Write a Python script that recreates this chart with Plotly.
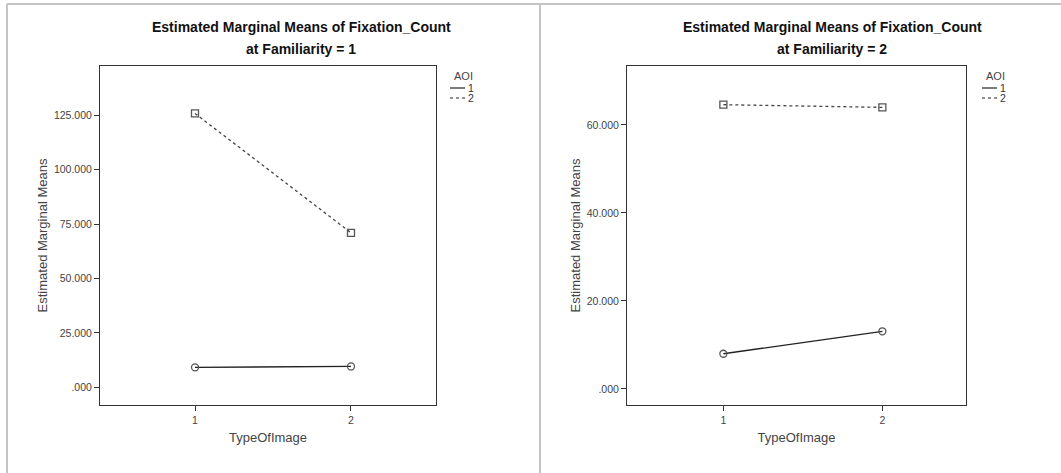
import plotly.graph_objects as go

# Estimated marginal means of Fixation_Count, split by Familiarity
type_of_image = [1, 2]
fam1_aoi1 = [9.2, 9.6]
fam1_aoi2 = [125.8, 71.0]
fam2_aoi1 = [8.0, 13.1]
fam2_aoi2 = [64.6, 64.0]

fam1_ticks = [0, 25, 50, 75, 100, 125]
fam1_ticktext = [".000", "25.000", "50.000", "75.000", "100.000", "125.000"]
fam2_ticks = [0, 20, 40, 60]
fam2_ticktext = [".000", "20.000", "40.000", "60.000"]

W, H = 1061, 473
FONT = "Liberation Sans, Arial, sans-serif"


def px(x):
    return x / W


def py(y):
    return 1 - y / H


fig = go.Figure()

panels = [
    dict(xa="x", ya="y", a1=fam1_aoi1, a2=fam1_aoi2),
    dict(xa="x2", ya="y2", a1=fam2_aoi1, a2=fam2_aoi2),
]

for p in panels:
    fig.add_trace(go.Scatter(
        x=type_of_image, y=p["a1"], xaxis=p["xa"], yaxis=p["ya"],
        mode="lines+markers", showlegend=False,
        line=dict(color="#222222", width=1.3, dash="solid"),
        marker=dict(symbol="circle-open", size=7, color="#555555",
                    line=dict(width=1.3, color="#555555")),
    ))
    fig.add_trace(go.Scatter(
        x=type_of_image, y=p["a2"], xaxis=p["xa"], yaxis=p["ya"],
        mode="lines+markers", showlegend=False,
        line=dict(color="#444444", width=1.3, dash="dot"),
        marker=dict(symbol="square-open", size=7, color="#555555",
                    line=dict(width=1.3, color="#555555")),
    ))

top, bottom = 66, 405
axis_common = dict(
    showline=True, mirror=True, linecolor="#333333", linewidth=1,
    ticks="outside", ticklen=5, tickwidth=1, tickcolor="#333333",
    showgrid=False, zeroline=False,
    tickfont=dict(family=FONT, size=10.5, color="#444444"),
    title_font=dict(family=FONT, size=13, color="#444444"),
)

fig.update_layout(
    width=W, height=H,
    margin=dict(l=0, r=0, t=0, b=0),
    paper_bgcolor="white", plot_bgcolor="white",
    xaxis=dict(domain=[px(100), px(436)], range=[0.391, 2.545],
               tickvals=type_of_image, ticktext=["1", "2"],
               title=dict(text="TypeOfImage", standoff=8), anchor="y", **axis_common),
    yaxis=dict(domain=[py(bottom), py(top)], range=[-8.1, 147.6],
               tickvals=fam1_ticks, ticktext=fam1_ticktext,
               title=dict(text="Estimated Marginal Means", standoff=3), anchor="x", **axis_common),
    xaxis2=dict(domain=[px(627), px(966)], range=[0.394, 2.526],
                tickvals=type_of_image, ticktext=["1", "2"],
                title=dict(text="TypeOfImage", standoff=8), anchor="y2", **axis_common),
    yaxis2=dict(domain=[py(bottom), py(top)], range=[-3.65, 73.4],
                tickvals=fam2_ticks, ticktext=fam2_ticktext,
                title=dict(text="Estimated Marginal Means", standoff=3), anchor="x2", **axis_common),
)

shapes = []
annotations = []

# outer panel frames
shapes.append(dict(type="line", xref="paper", yref="paper", x0=px(7), x1=px(7),
                   y0=0, y1=py(4), line=dict(color="#c4c4c4", width=2)))
shapes.append(dict(type="line", xref="paper", yref="paper", x0=px(7), x1=1,
                   y0=py(4), y1=py(4), line=dict(color="#c4c4c4", width=2)))
shapes.append(dict(type="line", xref="paper", yref="paper", x0=px(540), x1=px(540),
                   y0=0, y1=py(4), line=dict(color="#c4c4c4", width=2)))

for i, (cx, lx) in enumerate([(301, 450), (832, 982)]):
    annotations.append(dict(
        text="<b>Estimated Marginal Means of Fixation_Count</b>",
        xref="paper", yref="paper", x=px(cx), y=py(27), xanchor="center", yanchor="middle",
        showarrow=False, font=dict(family=FONT, size=14, color="#111111")))
    annotations.append(dict(
        text=f"<b>at Familiarity = {i + 1}</b>",
        xref="paper", yref="paper", x=px(cx), y=py(49), xanchor="center", yanchor="middle",
        showarrow=False, font=dict(family=FONT, size=14, color="#111111")))
    # legend
    annotations.append(dict(
        text="AOI", xref="paper", yref="paper", x=px(lx + 2), y=py(76),
        xanchor="left", yanchor="middle", showarrow=False,
        font=dict(family=FONT, size=11, color="#444444")))
    for lbl, dash, ly in [("1", "solid", 88), ("2", "dot", 98)]:
        shapes.append(dict(type="line", xref="paper", yref="paper",
                           x0=px(lx), x1=px(lx + 15), y0=py(ly), y1=py(ly),
                           line=dict(color="#222222", width=1.2, dash=dash)))
        annotations.append(dict(
            text=lbl, xref="paper", yref="paper", x=px(lx + 16), y=py(ly),
            xanchor="left", yanchor="middle", showarrow=False,
            font=dict(family=FONT, size=10.5, color="#333333")))

fig.update_layout(shapes=shapes, annotations=annotations)

fig.write_html("out.html")
